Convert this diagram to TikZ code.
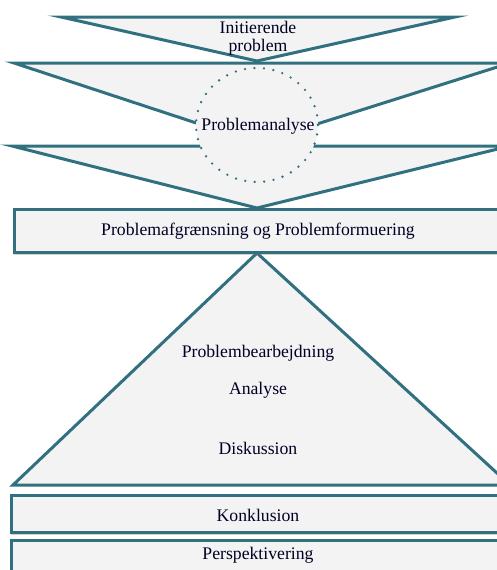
\documentclass[tikz,border=0pt]{standalone}
\usepackage{fontspec}
\setmainfont{Liberation Serif}
\usetikzlibrary{shadows}
\definecolor{edge}{HTML}{31707F}
\definecolor{paper}{HTML}{F3F3F3}
\tikzset{
  tshape/.style={draw=edge, fill=paper, line width=3pt, line join=miter},
  boxshape/.style={tshape, drop shadow={shadow xshift=0pt, shadow yshift=-2.5pt, opacity=0.35}},
  lbl/.style={font=\fontsize{17.7}{18.5}\selectfont, text=black!85!blue, align=center, inner sep=0pt},
}
\begin{document}
\begin{tikzpicture}[x=1pt,y=-1pt]
\useasboundingbox (0,0) rectangle (497,570);
% funnel triangles (bottom first)
\draw[tshape] (12,146) -- (510,146) -- (257,208) -- cycle;
\draw[tshape] (14,63) -- (510,63) -- (257,143) -- cycle;
\draw[tshape] (61,17) -- (455,17) -- (257,61) -- cycle;
\node[lbl] (ip) at (258,38) {Initierende\\problem};
% circle
\draw[fill=paper, draw=edge, line width=2.6pt, dash pattern=on 0pt off 9.5pt, line cap=round] (257,125) ellipse [x radius=61, y radius=57];
\node[lbl] (pa) at (258,126) {Problemanalyse};
% big triangle
\draw[tshape] (257,253) -- (510,485) -- (13,485) -- cycle;
% rectangles
\draw[boxshape] (14,209) rectangle (520,252);
\node[lbl] (pf) at (258,231) {Problemafgrænsning og Problemformuering};
\draw[boxshape] (11,495) rectangle (520,532);
\draw[boxshape] (11,540) rectangle (520,600);
\node[lbl] (pb) at (258,353) {Problembearbejdning};
\node[lbl] (an) at (258,390) {Analyse};
\node[lbl] (di) at (258,448) {Diskussion};
\node[lbl] (ko) at (258,515) {Konklusion};
\node[lbl] (pe) at (258,555) {Perspektivering};
\end{tikzpicture}
\end{document}
